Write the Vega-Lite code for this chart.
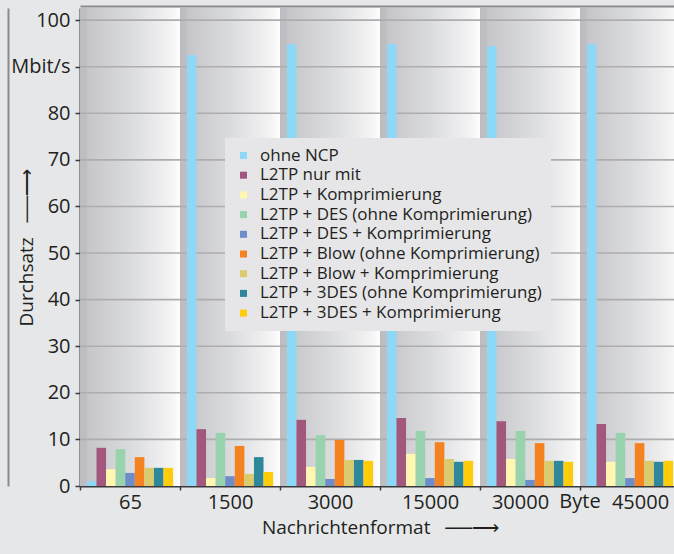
{
  "$schema": "https://vega.github.io/schema/vega-lite/v6.json",
  "width": 594,
  "height": 478,
  "autosize": {"type": "none"},
  "padding": {"left": 80, "top": 8, "right": 0, "bottom": 68},
  "background": "#e6e7e9",
  "config": {
    "view": {"stroke": null},
    "font": "Open Sans",
    "axis": {
      "labelFont": "Open Sans",
      "titleFont": "Open Sans",
      "labelColor": "#231f20",
      "titleColor": "#231f20",
      "titleFontWeight": "normal",
      "domainColor": "#3a3a3c",
      "tickColor": "#3a3a3c",
      "grid": false
    }
  },
  "resolve": {"axis": {"x": "independent", "y": "independent"}},
  "datasets": {
    "formate": [
      {"format": "65"}, {"format": "1500"}, {"format": "3000"},
      {"format": "15000"}, {"format": "30000"}, {"format": "45000"}
    ],
    "raster": [
      {"y": 10}, {"y": 20}, {"y": 30}, {"y": 40}, {"y": 50},
      {"y": 60}, {"y": 70}, {"y": 80}, {"y": 90}, {"y": 100}
    ],
    "messung": [
      {"format": "65", "serie": "ohne NCP", "wert": 1.0},
      {"format": "65", "serie": "L2TP nur mit", "wert": 8.2},
      {"format": "65", "serie": "L2TP + Komprimierung", "wert": 3.6},
      {"format": "65", "serie": "L2TP + DES (ohne Komprimierung)", "wert": 7.9},
      {"format": "65", "serie": "L2TP + DES + Komprimierung", "wert": 2.8},
      {"format": "65", "serie": "L2TP + Blow (ohne Komprimierung)", "wert": 6.2},
      {"format": "65", "serie": "L2TP + Blow + Komprimierung", "wert": 3.9},
      {"format": "65", "serie": "L2TP + 3DES (ohne Komprimierung)", "wert": 3.9},
      {"format": "65", "serie": "L2TP + 3DES + Komprimierung", "wert": 3.9},

      {"format": "1500", "serie": "ohne NCP", "wert": 92.5},
      {"format": "1500", "serie": "L2TP nur mit", "wert": 12.2},
      {"format": "1500", "serie": "L2TP + Komprimierung", "wert": 1.7},
      {"format": "1500", "serie": "L2TP + DES (ohne Komprimierung)", "wert": 11.4},
      {"format": "1500", "serie": "L2TP + DES + Komprimierung", "wert": 2.1},
      {"format": "1500", "serie": "L2TP + Blow (ohne Komprimierung)", "wert": 8.6},
      {"format": "1500", "serie": "L2TP + Blow + Komprimierung", "wert": 2.6},
      {"format": "1500", "serie": "L2TP + 3DES (ohne Komprimierung)", "wert": 6.2},
      {"format": "1500", "serie": "L2TP + 3DES + Komprimierung", "wert": 3.0},

      {"format": "3000", "serie": "ohne NCP", "wert": 94.8},
      {"format": "3000", "serie": "L2TP nur mit", "wert": 14.2},
      {"format": "3000", "serie": "L2TP + Komprimierung", "wert": 4.1},
      {"format": "3000", "serie": "L2TP + DES (ohne Komprimierung)", "wert": 10.9},
      {"format": "3000", "serie": "L2TP + DES + Komprimierung", "wert": 1.5},
      {"format": "3000", "serie": "L2TP + Blow (ohne Komprimierung)", "wert": 9.9},
      {"format": "3000", "serie": "L2TP + Blow + Komprimierung", "wert": 5.6},
      {"format": "3000", "serie": "L2TP + 3DES (ohne Komprimierung)", "wert": 5.6},
      {"format": "3000", "serie": "L2TP + 3DES + Komprimierung", "wert": 5.4},

      {"format": "15000", "serie": "ohne NCP", "wert": 94.8},
      {"format": "15000", "serie": "L2TP nur mit", "wert": 14.6},
      {"format": "15000", "serie": "L2TP + Komprimierung", "wert": 6.9},
      {"format": "15000", "serie": "L2TP + DES (ohne Komprimierung)", "wert": 11.8},
      {"format": "15000", "serie": "L2TP + DES + Komprimierung", "wert": 1.7},
      {"format": "15000", "serie": "L2TP + Blow (ohne Komprimierung)", "wert": 9.4},
      {"format": "15000", "serie": "L2TP + Blow + Komprimierung", "wert": 5.8},
      {"format": "15000", "serie": "L2TP + 3DES (ohne Komprimierung)", "wert": 5.2},
      {"format": "15000", "serie": "L2TP + 3DES + Komprimierung", "wert": 5.4},

      {"format": "30000", "serie": "ohne NCP", "wert": 94.4},
      {"format": "30000", "serie": "L2TP nur mit", "wert": 13.9},
      {"format": "30000", "serie": "L2TP + Komprimierung", "wert": 5.8},
      {"format": "30000", "serie": "L2TP + DES (ohne Komprimierung)", "wert": 11.8},
      {"format": "30000", "serie": "L2TP + DES + Komprimierung", "wert": 1.3},
      {"format": "30000", "serie": "L2TP + Blow (ohne Komprimierung)", "wert": 9.2},
      {"format": "30000", "serie": "L2TP + Blow + Komprimierung", "wert": 5.4},
      {"format": "30000", "serie": "L2TP + 3DES (ohne Komprimierung)", "wert": 5.4},
      {"format": "30000", "serie": "L2TP + 3DES + Komprimierung", "wert": 5.2},

      {"format": "45000", "serie": "ohne NCP", "wert": 94.8},
      {"format": "45000", "serie": "L2TP nur mit", "wert": 13.3},
      {"format": "45000", "serie": "L2TP + Komprimierung", "wert": 5.2},
      {"format": "45000", "serie": "L2TP + DES (ohne Komprimierung)", "wert": 11.4},
      {"format": "45000", "serie": "L2TP + DES + Komprimierung", "wert": 1.7},
      {"format": "45000", "serie": "L2TP + Blow (ohne Komprimierung)", "wert": 9.2},
      {"format": "45000", "serie": "L2TP + Blow + Komprimierung", "wert": 5.4},
      {"format": "45000", "serie": "L2TP + 3DES (ohne Komprimierung)", "wert": 5.2},
      {"format": "45000", "serie": "L2TP + 3DES + Komprimierung", "wert": 5.4}
    ]
  },
  "layer": [
    {
      "data": {"name": "formate"},
      "mark": {
        "type": "rect",
        "fill": {
          "gradient": "linear",
          "x1": 0, "y1": 0, "x2": 1, "y2": 0,
          "stops": [
            {"offset": 0, "color": "#bdbdc1"},
            {"offset": 0.07, "color": "#bfbfc3"},
            {"offset": 0.075, "color": "#c6c6ca"},
            {"offset": 0.5, "color": "#dadbdd"},
            {"offset": 0.9, "color": "#f3f3f4"},
            {"offset": 1, "color": "#fdfdfd"}
          ]
        }
      },
      "encoding": {
        "x": {
          "field": "format", "type": "nominal",
          "scale": {"domain": ["65", "1500", "3000", "15000", "30000", "45000"], "range": [0, 600], "paddingInner": 0, "paddingOuter": 0},
          "axis": {
            "orient": "top",
            "offset": 2,
            "title": null,
            "labels": false,
            "ticks": false,
            "domainColor": "#8c8c8e",
            "domainWidth": 2
          }
        }
      }
    },
    {
      "data": {"name": "raster"},
      "mark": {"type": "rule", "color": "#adadb0", "strokeWidth": 1.6},
      "encoding": {
        "y": {
          "field": "y", "type": "quantitative",
          "scale": {"domain": [0, 102.6], "nice": false},
          "axis": {
            "orient": "left",
            "offset": 72,
            "title": null,
            "labels": false,
            "ticks": false,
            "domainColor": "#8c8c8e",
            "domainWidth": 2
          }
        }
      }
    },
    {
      "data": {"name": "messung"},
      "mark": {"type": "bar"},
      "encoding": {
        "x": {
          "field": "format", "type": "nominal",
          "scale": {"domain": ["65", "1500", "3000", "15000", "30000", "45000"], "range": [0, 600], "paddingInner": 0, "paddingOuter": 0},
          "axis": {
            "orient": "bottom",
            "title": "Nachrichtenformat\u00a0\u00a0\u00a0\u2500\u2500\u27f6",
            "titleFontSize": 19,
            "titlePadding": 6,
            "labelAngle": 0,
            "labelFontSize": 20,
            "labelPadding": 2,
            "labelOffset": {"condition": [{"test": "datum.value == '30000'", "value": -10}, {"test": "datum.value == '45000'", "value": 10}], "value": 0},
            "tickBand": "extent",
            "tickSize": 4,
            "tickWidth": 1.5,
            "domainWidth": 2
          }
        },
        "xOffset": {
          "field": "serie", "type": "nominal",
          "sort": [
            "ohne NCP", "L2TP nur mit", "L2TP + Komprimierung",
            "L2TP + DES (ohne Komprimierung)", "L2TP + DES + Komprimierung",
            "L2TP + Blow (ohne Komprimierung)", "L2TP + Blow + Komprimierung",
            "L2TP + 3DES (ohne Komprimierung)", "L2TP + 3DES + Komprimierung"
          ],
          "scale": {"paddingInner": 0, "paddingOuter": 0.72}
        },
        "y": {
          "field": "wert", "type": "quantitative",
          "scale": {"domain": [0, 102.6], "nice": false},
          "axis": {
            "orient": "left",
            "title": "Durchsatz\u00a0\u00a0\u00a0\u2500\u2500\u27f6",
            "values": [0, 10, 20, 30, 40, 50, 60, 70, 80, 90, 100],
            "labelExpr": "datum.value == 90 ? 'Mbit/s' : datum.label",
            "labelFontSize": 20,
            "labelPadding": 5,
            "tickSize": 5,
            "tickWidth": 1.5,
            "domainWidth": 2,
            "titleFontSize": 19,
            "titleAngle": 270,
            "titleX": -54,
            "titleY": 239,
            "titleAlign": "center",
            "titleBaseline": "middle"
          }
        },
        "color": {
          "field": "serie", "type": "nominal",
          "scale": {
            "domain": [
              "ohne NCP", "L2TP nur mit", "L2TP + Komprimierung",
              "L2TP + DES (ohne Komprimierung)", "L2TP + DES + Komprimierung",
              "L2TP + Blow (ohne Komprimierung)", "L2TP + Blow + Komprimierung",
              "L2TP + 3DES (ohne Komprimierung)", "L2TP + 3DES + Komprimierung"
            ],
            "range": ["#8dd7f7", "#a2577d", "#fff6b2", "#99d3ae", "#6d8cca", "#f58220", "#dacc6e", "#2e879a", "#ffcc0a"]
          },
          "legend": {
            "title": null,
            "orient": "none",
            "legendX": 145,
            "legendY": 130,
            "fillColor": "#e6e6e8",
            "padding": 9,
            "symbolType": "square",
            "symbolSize": 49,
            "symbolOffset": 1,
            "symbolStrokeWidth": 0,
            "labelFont": "Open Sans",
            "labelFontSize": 17,
            "labelColor": "#231f20",
            "labelOffset": 8,
            "labelLimit": 400,
            "rowPadding": 1.7
          }
        }
      }
    },
    {
      "data": {"values": [{"format": "45000", "einheit": "Byte"}]},
      "mark": {"type": "text", "font": "Open Sans", "fontSize": 20, "color": "#231f20", "align": "center", "baseline": "top", "dy": 6},
      "encoding": {
        "x": {"field": "format", "type": "nominal", "bandPosition": 0, "axis": null},
        "y": {"datum": 0, "axis": null},
        "text": {"field": "einheit"}
      }
    }
  ]
}
